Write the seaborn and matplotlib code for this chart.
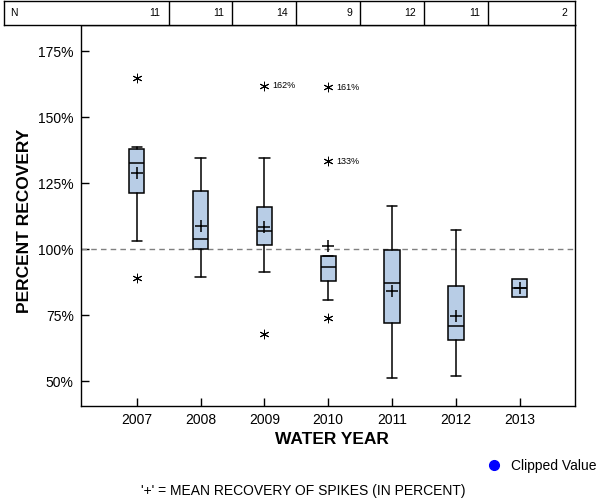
import matplotlib
matplotlib.use("Agg")
import matplotlib.pyplot as plt
from matplotlib.lines import Line2D
import seaborn as sns
import pandas as pd

# ---- data ----
years = ["2007", "2008", "2009", "2010", "2011", "2012", "2013"]
n_counts = [11, 11, 14, 9, 12, 11, 2]
q1_vals = [121.2, 100.0, 101.5, 87.9, 72.0, 65.5, 81.8]
median_vals = [132.6, 103.8, 106.8, 93.2, 87.2, 70.8, 85.2]
q3_vals = [137.9, 122.0, 115.9, 97.3, 99.6, 86.2, 88.9]
whisker_low = [103.0, 89.4, 91.4, 80.7, 51.1, 52.0, 81.8]
whisker_high = [138.9, 134.5, 134.5, 97.3, 116.3, 107.4, 88.9]
mean_vals = [128.8, 108.9, 108.6, 101.1, 84.1, 74.6, 85.2]
outlier_years = ["2007", "2007", "2009", "2009", "2010", "2010", "2010"]
outlier_vals = [164.8, 89.0, 161.9, 68.0, 161.5, 133.4, 74.1]
outlier_labels = ["", "", "162%", "", "161%", "133%", ""]
y_ticks = [50, 75, 100, 125, 150, 175]

sns.set_theme(style="white")
plt.rcParams["font.family"] = ["Liberation Sans", "DejaVu Sans"]
plt.rcParams["text.color"] = "black"
plt.rcParams["axes.labelcolor"] = "black"
plt.rcParams["xtick.color"] = "black"
plt.rcParams["ytick.color"] = "black"

fig = plt.figure(figsize=(6, 5), dpi=100)
W, H = 600.0, 500.0
ax_left, ax_right, ax_top, ax_bottom = 80.7, 575.3, 25.0, 406.0
ax = fig.add_axes([ax_left / W, 1 - ax_bottom / H, (ax_right - ax_left) / W, (ax_bottom - ax_top) / H])

positions = list(range(len(years)))
stats = []
for i, yr in enumerate(years):
    stats.append(dict(label=yr, q1=q1_vals[i], med=median_vals[i], q3=q3_vals[i],
                      whislo=whisker_low[i], whishi=whisker_high[i], fliers=[]))

box_face = "#B8CDE6"
art = ax.bxp(stats, positions=positions, widths=0.24, patch_artist=True,
             showfliers=False, showmeans=False,
             boxprops=dict(facecolor=box_face, edgecolor="black", linewidth=1.1),
             medianprops=dict(color="black", linewidth=1.1),
             whiskerprops=dict(color="black", linewidth=1.1),
             capprops=dict(color="black", linewidth=1.1),
             capwidths=0.16, zorder=3)
# single-sample-size year has no whiskers/caps
last = len(years) - 1
for k in (2 * last, 2 * last + 1):
    art["whiskers"][k].set_visible(False)
    art["caps"][k].set_visible(False)

# reference line at 100%
ax.axhline(100, color="#808080", linestyle=(0, (4, 3)), linewidth=1.0, zorder=1)

# means
mean_df = pd.DataFrame({"pos": positions, "mean": mean_vals})
sns.scatterplot(data=mean_df, x="pos", y="mean", marker="+", s=70, color="black",
                linewidth=1.1, ax=ax, zorder=5, legend=False)

# outliers
out_df = pd.DataFrame({"pos": [years.index(y) for y in outlier_years], "val": outlier_vals})
sns.scatterplot(data=out_df, x="pos", y="val", marker=(6, 2, 0), s=40, color="black",
                edgecolor="black", linewidth=0.7, ax=ax, zorder=5, legend=False)
for p, v, lab in zip(out_df["pos"], outlier_vals, outlier_labels):
    if lab:
        ax.annotate(lab, (p, v), xytext=(6, 0), textcoords="offset points",
                    fontsize=6.5, va="center", ha="left")

x0, x1 = -0.878, 6.871
ax.set_xlim(x0, x1)
ax.set_ylim(40.6, 185.0)
ax.set_xticks(positions)
ax.set_xticklabels(years)
ax.set_yticks(y_ticks)
ax.set_yticklabels([f"{v}%" for v in y_ticks])
ax.set_xlabel("")
ax.set_ylabel("")
ax.tick_params(direction="in", length=6, width=1, labelsize=10, pad=5,
               colors="black", bottom=True, left=True)
for s in ax.spines.values():
    s.set_visible(True)
    s.set_color("black")
    s.set_linewidth(1.0)

# ---- N table across the top ----
t_left, t_top, t_bottom = 4.0, 1.0, 25.0
tax = fig.add_axes([t_left / W, 1 - t_bottom / H, (ax_right - t_left) / W, (t_bottom - t_top) / H])
px_per_unit = (ax_right - ax_left) / (x1 - x0)
tx0 = x0 - (ax_left - t_left) / px_per_unit
tax.set_xlim(tx0, x1)
tax.set_ylim(0, 1)
tax.set_xticks([])
tax.set_yticks([])
for s in tax.spines.values():
    s.set_visible(True)
    s.set_color("black")
    s.set_linewidth(1.0)
for i in range(len(years) - 1):
    tax.axvline(i + 0.5, color="black", linewidth=1.0)
pad_units = 8 / px_per_unit
for i, n in enumerate(n_counts):
    right_edge = i + 0.5 if i < len(years) - 1 else x1
    tax.text(right_edge - pad_units, 0.5, str(n), ha="right", va="center", fontsize=7.5)
tax.text(tx0 + 6 / px_per_unit, 0.5, "N", ha="left", va="center", fontsize=7.5)

# ---- labels ----
fig.text(332 / W, 1 - 440 / H, "WATER YEAR", ha="center", va="center",
         fontsize=12.5, fontweight="bold")
fig.text(25 / W, 1 - 221 / H, "PERCENT RECOVERY", ha="center", va="center",
         rotation=90, fontsize=12.5, fontweight="bold")
fig.text(303 / W, 1 - 491 / H, "'+' = MEAN RECOVERY OF SPIKES (IN PERCENT)",
         ha="center", va="center", fontsize=10)

handle = Line2D([], [], marker="o", color="blue", linestyle="none", markersize=7)
fig.legend(handles=[handle], labels=["Clipped Value"], loc="center left",
           bbox_to_anchor=(487 / W, 1 - 466 / H), frameon=False, fontsize=10,
           handlelength=1.0, handletextpad=0.75, borderpad=0, borderaxespad=0)

fig.savefig("out.png", dpi=100)
